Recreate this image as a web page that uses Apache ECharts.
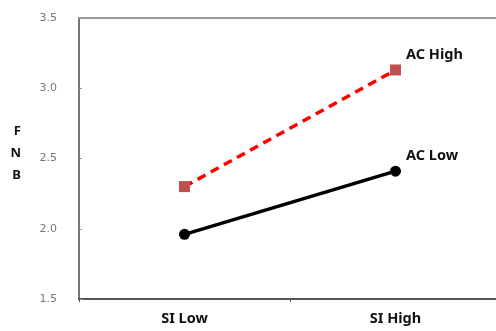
<!DOCTYPE html>
<html><head><meta charset="utf-8">
<script src="https://cdn.jsdelivr.net/npm/echarts@6/dist/echarts.min.js"></script>
<style>html,body{margin:0;padding:0;background:#fff}#c{width:496px;height:331px}</style>
</head><body><div id="c"></div>
<script>
var categories = ['SI Low', 'SI High'];
var acHigh = [2.30, 3.13];
var acLow = [1.96, 2.41];
var seriesNames = ['AC High', 'AC Low'];
var yTicks = [1.5, 2.0, 2.5, 3.0, 3.5];
var yName = ['F', 'N', 'B'];

var chart = echarts.init(document.getElementById('c'));
function endLabel(name) {
  return {
    show: true, position: 'right', offset: [0, -15],
    formatter: function (p) { return p.dataIndex === 1 ? name : ''; },
    fontFamily: 'Noto Sans', fontWeight: 'bold', fontSize: 14.5, color: '#111'
  };
}
var nameStyle = { fontFamily: 'Noto Sans', fontWeight: 'bold', fontSize: 13, color: '#111', lineHeight: 22 };
chart.setOption({
  animation: false,
  grid: { left: 79, width: 422, top: 18, bottom: 32, show: false, outerBoundsMode: 'none', containLabel: false },
  xAxis: [{
    type: 'category', data: categories, boundaryGap: true,
    axisLine: { lineStyle: { color: '#555', width: 2 } },
    axisTick: { show: true, length: 3, lineStyle: { color: '#555' } },
    splitLine: { show: false },
    axisLabel: { fontFamily: 'Noto Sans', fontWeight: 'bold', fontSize: 14.5, color: '#111', margin: 12 }
  }, {
    type: 'category', data: categories, position: 'top',
    axisLine: { show: true, lineStyle: { color: '#999', width: 2 } },
    splitLine: { show: false },
    axisTick: { show: false }, axisLabel: { show: false }
  }],
  yAxis: {
    type: 'value', min: 1.5, max: 3.5, interval: 0.5,
    name: yName.map(function (c) { return '{a|' + c + '}'; }).join('\n') + '\n{b| }',
    nameLocation: 'middle', nameRotate: 0, nameGap: 58,
    nameTextStyle: { rich: { a: nameStyle, b: { lineHeight: 10, fontSize: 8 } } },
    axisLine: { show: true, lineStyle: { color: '#777', width: 2 } },
    axisTick: { show: true, inside: true, length: 3, lineStyle: { color: '#999' } },
    splitLine: { show: false },
    axisLabel: { fontFamily: 'DejaVu Sans', fontSize: 11, color: '#777', margin: 22,
      formatter: function (v) { return v.toFixed(1); } }
  },
  series: [
    { name: seriesNames[0], type: 'line', data: acHigh, symbol: 'rect', symbolSize: 11,
      itemStyle: { color: '#C0504D' }, lineStyle: { color: '#FF0000', width: 3.5, type: [9, 6] },
      label: endLabel(seriesNames[0]) },
    { name: seriesNames[1], type: 'line', data: acLow, symbol: 'circle', symbolSize: 11,
      itemStyle: { color: '#000' }, lineStyle: { color: '#000', width: 3.5 },
      label: endLabel(seriesNames[1]) }
  ]
});
</script></body></html>
